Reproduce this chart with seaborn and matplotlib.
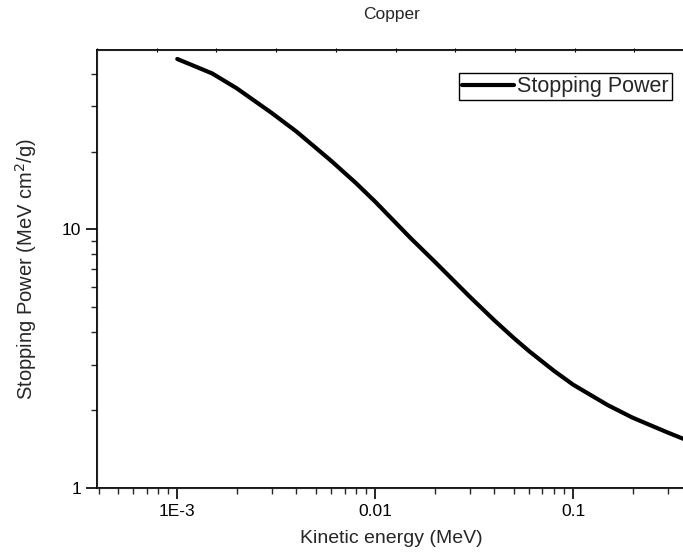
import numpy as np
import pandas as pd
import seaborn as sns
import matplotlib.pyplot as plt
from matplotlib.ticker import FixedLocator, FixedFormatter, LogLocator, NullFormatter

# kinetic energy (MeV) and stopping power (MeV cm2/g)
energy = [0.001, 0.0015, 0.002, 0.003, 0.004, 0.005, 0.006, 0.008,
          0.01, 0.015, 0.02, 0.03, 0.04, 0.05, 0.06, 0.08,
          0.1, 0.15, 0.2, 0.3, 0.36]
stopping = [45.6, 40.1, 35.1, 28.2, 23.9, 20.7, 18.4, 15.1,
            12.8, 9.3, 7.5, 5.5, 4.45, 3.81, 3.38, 2.84,
            2.51, 2.09, 1.87, 1.64, 1.55]

xticks = [0.001, 0.01, 0.1]
xticklabels = ["1E-3", "0.01", "0.1"]
yticks = [1, 10]
yticklabels = ["1", "10"]

sns.set_style("ticks")
plt.rcParams['font.family'] = ['Liberation Sans', 'DejaVu Sans']

df = pd.DataFrame({"energy": energy, "stopping": stopping})

fig = plt.figure(figsize=(6.83, 5.57), dpi=100)
ax = fig.add_axes([97 / 683, 69 / 557, 589 / 683, 438 / 557])

sns.lineplot(data=df, x="energy", y="stopping", ax=ax, color="black",
             linewidth=3, label="Stopping Power")

ax.set_xscale("log")
ax.set_yscale("log")
ax.set_xlim(3.93e-4, 0.372)
ax.set_ylim(1, 49.4)

ax.xaxis.set_major_locator(FixedLocator(xticks))
ax.xaxis.set_major_formatter(FixedFormatter(xticklabels))
ax.xaxis.set_minor_locator(LogLocator(base=10, subs=np.arange(2, 10), numticks=20))
ax.xaxis.set_minor_formatter(NullFormatter())
ax.yaxis.set_major_locator(FixedLocator(yticks))
ax.yaxis.set_major_formatter(FixedFormatter(yticklabels))
ax.yaxis.set_minor_locator(LogLocator(base=10, subs=np.arange(2, 10), numticks=20))
ax.yaxis.set_minor_formatter(NullFormatter())

ax.tick_params(which="major", direction="out", length=8, width=1.2, labelsize=12.5,
               colors="black", top=False, right=False)
ax.tick_params(which="minor", direction="out", length=4.5, width=1.0,
               top=False, right=False)
for s in ax.spines.values():
    s.set_color("black")
    s.set_linewidth(1.3)

ax.set_xlabel("Kinetic energy (MeV)", fontsize=14, labelpad=8)
ax.set_ylabel("Stopping Power (MeV cm$^2$/g)", fontsize=14.5, labelpad=16)
ax.set_title("Copper", fontsize=12.5, pad=22)

# small ticks on the top frame
top = ax.twiny()
top.set_xlim(0, 589 / 59.7)
top.set_xticks(range(0, 10))
top.set_xticklabels([])
top.tick_params(axis="x", direction="inout", length=3, width=0.8, colors="black")

leg = ax.legend(loc="upper right", bbox_to_anchor=(672 / 683, 1 - 73 / 557),
                bbox_transform=fig.transFigure, borderaxespad=0, fontsize=15.5,
                fancybox=False, framealpha=1, edgecolor="black",
                handlelength=2.4, handletextpad=0.15, borderpad=0.15)
leg.get_frame().set_linewidth(1.0)

fig.savefig("out.png", dpi=100)
